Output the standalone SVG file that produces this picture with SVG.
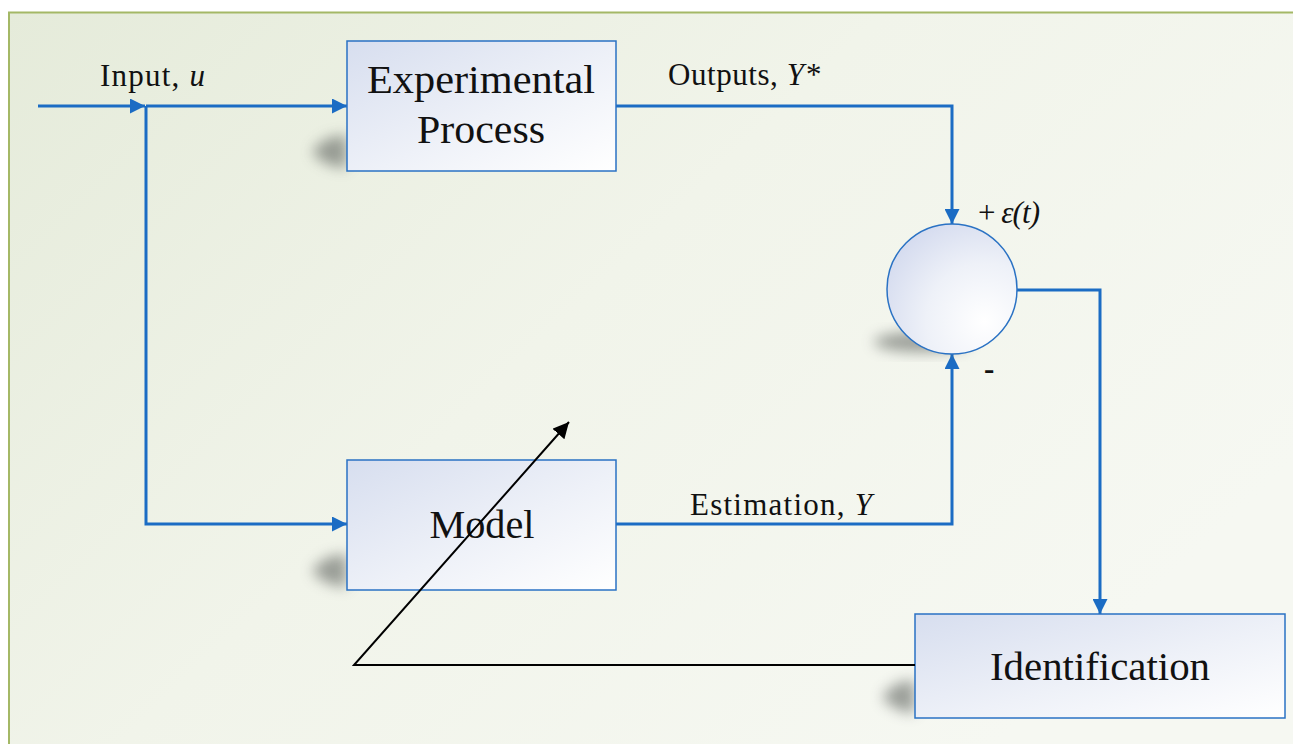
<svg xmlns="http://www.w3.org/2000/svg" width="1293" height="744" viewBox="0 0 1293 744">
  <defs>
    <linearGradient id="bg" x1="0" y1="0" x2="1" y2="0.6">
      <stop offset="0" stop-color="#e5ebda"/>
      <stop offset="0.5" stop-color="#f1f4ea"/>
      <stop offset="1" stop-color="#f6f8f2"/>
    </linearGradient>
    <linearGradient id="boxFill" x1="0" y1="0" x2="1" y2="1">
      <stop offset="0" stop-color="#d7deef"/>
      <stop offset="0.55" stop-color="#eef1f8"/>
      <stop offset="1" stop-color="#ffffff"/>
    </linearGradient>
    <radialGradient id="circFill" cx="0.75" cy="0.75" r="0.9">
      <stop offset="0" stop-color="#ffffff"/>
      <stop offset="0.5" stop-color="#eef1f8"/>
      <stop offset="1" stop-color="#d2d9ee"/>
    </radialGradient>
    <filter id="soft" x="-50%" y="-50%" width="200%" height="200%">
      <feGaussianBlur stdDeviation="7"/>
    </filter>
    <marker id="blueArrow" viewBox="0 0 10 10" refX="10" refY="5" markerWidth="5" markerHeight="5" orient="auto" markerUnits="strokeWidth">
      <path d="M0,0 L10,5 L0,10 z" fill="#1b6cc4"/>
    </marker>
    <marker id="blackArrow" viewBox="0 0 10 10" refX="10" refY="5" markerWidth="8" markerHeight="8" orient="auto" markerUnits="strokeWidth">
      <path d="M0,0 L10,5 L0,10 z" fill="#000"/>
    </marker>
  </defs>
  <style>
    .box { fill: url(#boxFill); stroke: #2a72c4; stroke-width: 1.5; }
    .shadow { fill: #5f635f; opacity: 0.6; filter: url(#soft); }
    .flow { fill: none; stroke: #1b6cc4; stroke-width: 3; }
    .big { font-family: "Liberation Serif", serif; font-size: 40px; fill: #111; text-anchor: middle; }
    .lbl { font-family: "Liberation Serif", serif; font-size: 31px; fill: #111; }
    .it { font-style: italic; }
  </style>

  <!-- background panel -->
  <rect x="0" y="0" width="1293" height="744" fill="#ffffff"/>
  <rect x="9" y="12.5" width="1290" height="740" fill="url(#bg)" stroke="#a4b866" stroke-width="2"/>

  <!-- connectors -->
  <g id="connectors">
    <path class="flow" d="M38,106 L145,106" marker-end="url(#blueArrow)"/>
    <path class="flow" d="M146,106 L347,106" marker-end="url(#blueArrow)"/>
    <path class="flow" d="M146,106 L146,524 L347,524" marker-end="url(#blueArrow)"/>
    <path class="flow" d="M616,106 L952,106 L952,224" marker-end="url(#blueArrow)"/>
    <path class="flow" d="M616,524 L952,524 L952,354" marker-end="url(#blueArrow)"/>
    <path class="flow" d="M1017,290 L1100,290 L1100,614" marker-end="url(#blueArrow)"/>
    <text class="lbl" x="100" y="86" textLength="105" lengthAdjust="spacing">Input, <tspan class="it">u</tspan></text>
    <text class="lbl" x="668" y="85" textLength="152" lengthAdjust="spacing">Outputs, <tspan class="it">Y*</tspan></text>
    <text class="lbl" x="690" y="515" textLength="182" lengthAdjust="spacing">Estimation, <tspan class="it">Y</tspan></text>
  </g>

  <!-- experimental process block -->
  <g id="process">
    <path class="shadow" d="M312,152 Q326,134 347,136 L347,168 Q324,167 312,152 z"/>
    <rect class="box" x="347" y="41" width="269" height="130"/>
    <text class="big" x="481" y="93" textLength="228" lengthAdjust="spacingAndGlyphs">Experimental</text>
    <text class="big" x="481" y="143" textLength="128" lengthAdjust="spacingAndGlyphs">Process</text>
  </g>

  <!-- model block -->
  <g id="model">
    <path class="shadow" d="M312,571 Q326,553 347,555 L347,587 Q324,586 312,571 z"/>
    <rect class="box" x="347" y="460" width="269" height="130"/>
    <text class="big" x="482" y="538" textLength="105" lengthAdjust="spacingAndGlyphs">Model</text>
  </g>

  <!-- comparator -->
  <g id="comparator">
    <ellipse class="shadow" cx="922" cy="342" rx="48" ry="10"/>
    <circle cx="952" cy="289" r="65" fill="url(#circFill)" stroke="#2a72c4" stroke-width="1.5"/>
    <text class="lbl" x="978" y="223" font-size="24" textLength="62" lengthAdjust="spacing"><tspan>+ </tspan><tspan class="it">ε(t)</tspan></text>
    <text class="lbl" x="984" y="379" font-size="30" font-weight="bold">-</text>
  </g>

  <!-- identification block -->
  <g id="identification">
    <path class="shadow" d="M882,697 Q896,679 915,681 L915,713 Q894,712 882,697 z"/>
    <rect class="box" x="915" y="614" width="370" height="104"/>
    <text class="big" x="1100" y="680" textLength="220" lengthAdjust="spacingAndGlyphs">Identification</text>
  </g>

  <!-- adaptation path from identification back across the model -->
  <g id="adaptation">
    <path d="M915,665 L354,665 L569,422" fill="none" stroke="#000" stroke-width="2" marker-end="url(#blackArrow)"/>
  </g>
</svg>
